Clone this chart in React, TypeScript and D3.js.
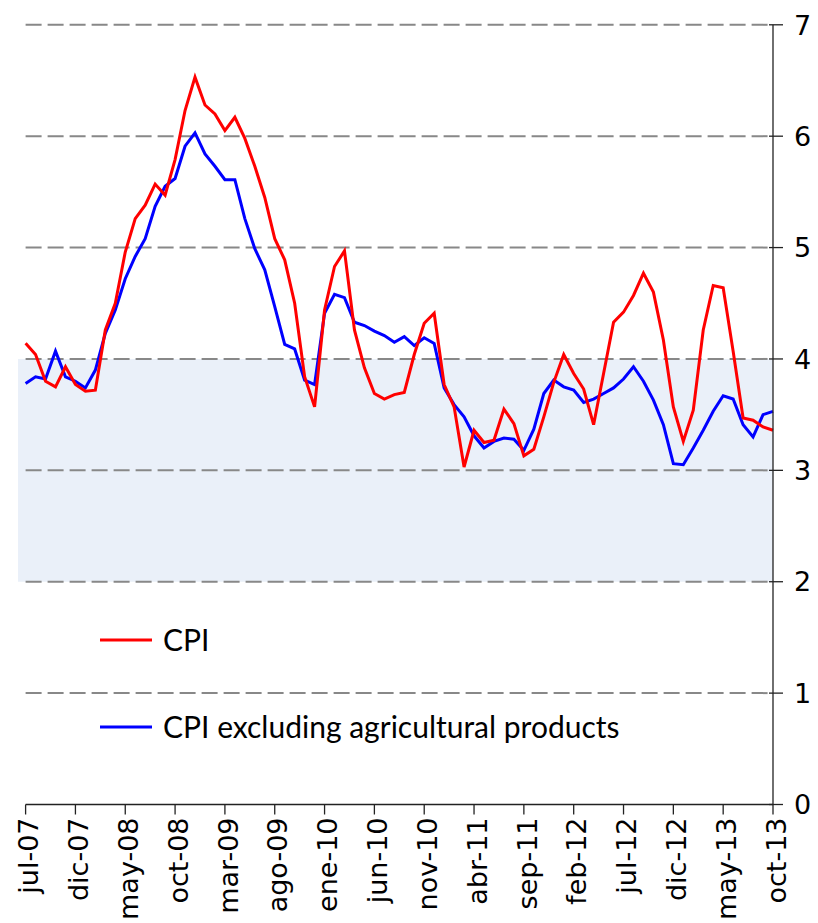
import React from "react";
import * as d3 from "d3";

const months = ["jul-07","ago-07","sep-07","oct-07","nov-07","dic-07","ene-08","feb-08","mar-08","abr-08","may-08","jun-08","jul-08","ago-08","sep-08","oct-08","nov-08","dic-08","ene-09","feb-09","mar-09","abr-09","may-09","jun-09","jul-09","ago-09","sep-09","oct-09","nov-09","dic-09","ene-10","feb-10","mar-10","abr-10","may-10","jun-10","jul-10","ago-10","sep-10","oct-10","nov-10","dic-10","ene-11","feb-11","mar-11","abr-11","may-11","jun-11","jul-11","ago-11","sep-11","oct-11","nov-11","dic-11","ene-12","feb-12","mar-12","abr-12","may-12","jun-12","jul-12","ago-12","sep-12","oct-12","nov-12","dic-12","ene-13","feb-13","mar-13","abr-13","may-13","jun-13","jul-13","ago-13","sep-13","oct-13"];

const cpi = [4.14,4.04,3.80,3.75,3.93,3.77,3.71,3.72,4.26,4.50,4.96,5.26,5.38,5.57,5.47,5.79,6.23,6.53,6.28,6.20,6.05,6.17,5.98,5.73,5.45,5.08,4.89,4.50,3.84,3.57,4.44,4.83,4.97,4.26,3.92,3.69,3.64,3.68,3.70,4.04,4.32,4.41,3.77,3.57,3.03,3.36,3.25,3.27,3.55,3.42,3.13,3.19,3.48,3.79,4.04,3.87,3.73,3.41,3.87,4.33,4.42,4.57,4.77,4.60,4.17,3.57,3.26,3.54,4.26,4.66,4.64,4.07,3.47,3.45,3.39,3.36];

const cpiExAgri = [3.78,3.84,3.82,4.07,3.84,3.80,3.74,3.90,4.23,4.44,4.72,4.92,5.08,5.37,5.55,5.62,5.91,6.03,5.84,5.73,5.61,5.61,5.26,4.99,4.80,4.47,4.13,4.09,3.81,3.77,4.41,4.58,4.55,4.33,4.30,4.25,4.21,4.15,4.20,4.12,4.19,4.14,3.74,3.59,3.48,3.31,3.20,3.26,3.29,3.28,3.18,3.37,3.69,3.81,3.75,3.72,3.61,3.64,3.69,3.74,3.82,3.93,3.80,3.63,3.41,3.06,3.05,3.20,3.36,3.53,3.67,3.64,3.41,3.30,3.50,3.53];

const yTicks = [0,1,2,3,4,5,6,7];
const targetBand = [2, 4];
const seriesNames = ["CPI", "CPI excluding agricultural products"];

export default function App() {
  const W = 818, H = 923;
  const x = d3.scaleLinear().domain([0, months.length - 1]).range([25.6, 773]);
  const y = d3.scaleLinear().domain([0, 7]).range([804.5, 24.8]);
  const line = d3.line<number>().x((_, i) => x(i)).y(d => y(d));
  const xTickIdx = d3.range(0, months.length, 5);
  const axisFont = "'DejaVu Sans', Verdana, sans-serif";
  const legendFont = "Lato, 'Open Sans', sans-serif";

  return (
    <svg width={W} height={H} style={{ position: "absolute", left: 0, top: 0, background: "#fff" }}>
      <rect x={18} y={y(targetBand[1])} width={x(months.length - 1) - 18} height={y(targetBand[0]) - y(targetBand[1])} fill="#EAF0F9" />
      {yTicks.filter(t => t > 0).map(t => (
        <line key={"g" + t} x1={x(0)} x2={x(months.length - 1)} y1={y(t)} y2={y(t)} stroke="#888" strokeWidth={2} strokeDasharray="16,6" />
      ))}
      <path d={line(cpiExAgri) || ""} fill="none" stroke="#0000FF" strokeWidth={3} strokeLinejoin="miter" />
      <path d={line(cpi) || ""} fill="none" stroke="#FF0000" strokeWidth={3} strokeLinejoin="miter" />
      {/* x axis */}
      <line x1={x(0)} x2={x(months.length - 1)} y1={y(0)} y2={y(0)} stroke="#222" strokeWidth={1.3} />
      {xTickIdx.map(i => (
        <g key={"xt" + i}>
          <line x1={x(i)} x2={x(i)} y1={y(0)} y2={y(0) + 10} stroke="#222" strokeWidth={1.3} />
          <text transform={`translate(${x(i) + 3},${y(0) + 13}) rotate(-90)`} textAnchor="end" dy="0.36em" fontFamily={axisFont} fontSize={27} fill="#000">{months[i]}</text>
        </g>
      ))}
      {/* right y axis */}
      <line x1={x(months.length - 1)} x2={x(months.length - 1)} y1={y(7)} y2={y(0)} stroke="#222" strokeWidth={1.3} />
      {yTicks.map(t => (
        <g key={"yt" + t}>
          <line x1={x(months.length - 1) - 4} x2={x(months.length - 1) + 10} y1={y(t)} y2={y(t)} stroke="#222" strokeWidth={1.3} />
          <text x={794} y={y(t)} dy="0.36em" fontFamily={axisFont} fontSize={27} fill="#000">{t}</text>
        </g>
      ))}
      {/* legend */}
      <line x1={100} x2={152} y1={640} y2={640} stroke="#FF0000" strokeWidth={3} />
      <text x={163} y={640} dy="0.35em" fontFamily={legendFont} fontSize={30} fill="#000">{seriesNames[0]}</text>
      <line x1={100} x2={152} y1={727} y2={727} stroke="#0000FF" strokeWidth={3} />
      <text x={163} y={727} dy="0.35em" fontFamily={legendFont} fontSize={30} fill="#000">{seriesNames[1]}</text>
    </svg>
  );
}
